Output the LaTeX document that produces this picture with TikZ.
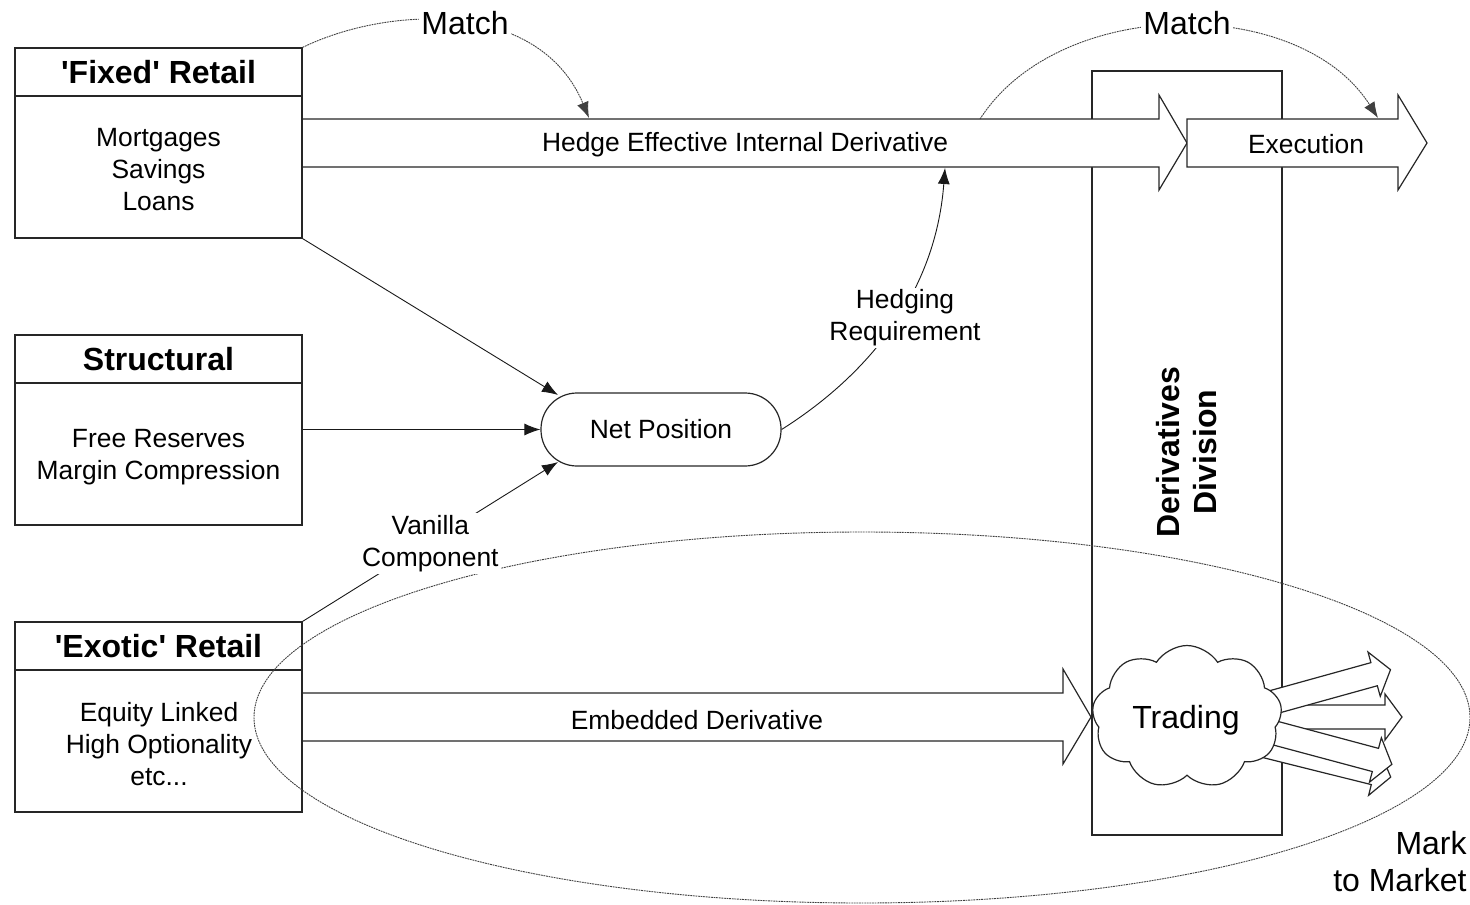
\documentclass[tikz,border=0pt]{standalone}
\usepackage{fontspec}
\setmainfont{Liberation Sans}
\usetikzlibrary{shapes.symbols,arrows.meta,calc}
\newcommand\fanarr[4]{\begin{scope}[shift={(#1,#2)},rotate=#3]
 \draw[line, fill=white] (0,-12) -- ({#4-17},-12) -- ({#4-17},-23) -- (#4,0) -- ({#4-17},23) -- ({#4-17},12) -- (0,12) -- cycle;
\end{scope}}
\begin{document}
\begin{tikzpicture}[x=0.5pt,y=-0.5pt,
  line/.style={draw=black!85, line width=0.6pt},
  thinline/.style={draw=black!90, line width=0.45pt},
  fine/.style={draw=black!75, line width=0.45pt, dash pattern=on 0.9pt off 0.4pt},
  tip/.style={-{Latex[length=8pt,width=6pt]}},
  txt/.style={font=\fontsize{13.2}{16}\selectfont, align=center, inner sep=1pt},
  ttl/.style={font=\fontsize{16}{18.5}\selectfont\bfseries, align=center, inner sep=1pt},
  big/.style={font=\fontsize{16}{18.5}\selectfont, align=center, inner sep=1pt},
  box/.style={line, rectangle, minimum width=143.5pt, minimum height=95pt, inner sep=0pt},
]
\useasboundingbox (0,0) rectangle (1470,904);

% Derivatives division column
\node[line, minimum width=95pt, minimum height=382pt, inner sep=0pt] (dd) at (1187,453) {};

% fan arrows out of trading
\fanarr{1245}{717}{0}{157}
\fanarr{1250}{742}{-14}{145}
\fanarr{1245}{725}{-15}{152}
\fanarr{1245}{710}{15.5}{151}

% trading cloud
\node[cloud, line, fill=white, cloud puffs=9, cloud puff arc=115, aspect=1.33, minimum width=95pt, minimum height=71.5pt, inner sep=0pt] (trading) at (1187,717) {};
\node[big] (tradingT) at (1186,720) {Trading};

% block arrows
\draw[line, fill=white] (302,119) -- (1159,119) -- (1159,95) -- (1187,143) -- (1159,190) -- (1159,167) -- (302,167) -- cycle;
\draw[line, fill=white] (1187,119) -- (1398,119) -- (1398,95) -- (1427,143) -- (1398,190) -- (1398,167) -- (1187,167) -- cycle;
\draw[line, fill=white] (302,693) -- (1063,693) -- (1063,669) -- (1091,717) -- (1063,764) -- (1063,741) -- (302,741) -- cycle;
\node[txt] (hedgeT) at (745,145) {Hedge Effective Internal Derivative};
\node[txt] (execT) at (1306,144) {Execution};
\node[txt] (embT) at (697,720) {Embedded Derivative};

% boxes
\node[box] (fixed) at (158.5,143) {};
\draw[line] (15,96) -- (302,96);
\node[ttl] (fixedT) at (158.5,72) {\textquotesingle Fixed\textquotesingle{} Retail};
\node[txt] (fixedB) at (158.5,170) {Mortgages\\Savings\\Loans};

\node[box] (struct) at (158.5,430) {};
\draw[line] (15,383) -- (302,383);
\node[ttl] (structT) at (158.5,359) {Structural};
\node[txt] (structB) at (158.5,457) {Free Reserves\\Margin Compression};

\node[box] (exotic) at (158.5,717) {};
\draw[line] (15,670) -- (302,670);
\node[ttl] (exoticT) at (158.5,646) {\textquotesingle Exotic\textquotesingle{} Retail};
\node[txt] (exoticB) at (159,744) {Equity Linked\\High Optionality\\etc...};

% mark to market ellipse
\draw[fine] (862,717.5) ellipse [x radius=304pt, y radius=92.75pt];

% net position
\node[line, rounded corners=18pt, minimum width=120pt, minimum height=36.5pt, txt] (np) at (661,429.5) {Net Position};

% connectors into net position
\draw[thinline, tip] (fixed.south east) -- (558,395);
\draw[thinline, tip] (struct.east |- np.west) -- (np.west);
\coordinate (vtip) at (558,462);
\draw[thinline, tip] (exotic.north east) -- node[txt, fill=white, pos=0.5, yshift=-1pt] (vanT) {Vanilla\\Component} (vtip);

% hedging requirement
\coordinate (htip) at (945,168);
\draw[thinline, tip] (np.east) .. controls (860,380) and (935,300) .. (htip);
\node[txt, fill=white] (hrT) at (905,318) {Hedging\\Requirement};

% match curves
\coordinate (m1tip) at (589,118);
\coordinate (m2start) at (980,119);
\coordinate (m2tip) at (1378,118);
\draw[fine, tip] (fixed.north east) .. controls (390,5) and (540,0) .. (m1tip);
\draw[fine, tip] (m2start) .. controls (1060,-5) and (1300,-5) .. (m2tip);
\node[big, fill=white] (match1) at (465,23) {Match};
\node[big, fill=white] (match2) at (1187,23) {Match};

% column title
\node[ttl, rotate=90] (ddT) at (1187,452) {Derivatives\\Division};

% mark to market label
\node[big, align=right, anchor=east] (mtm) at (1469,862) {Mark\\to Market};
\end{tikzpicture}
\end{document}
